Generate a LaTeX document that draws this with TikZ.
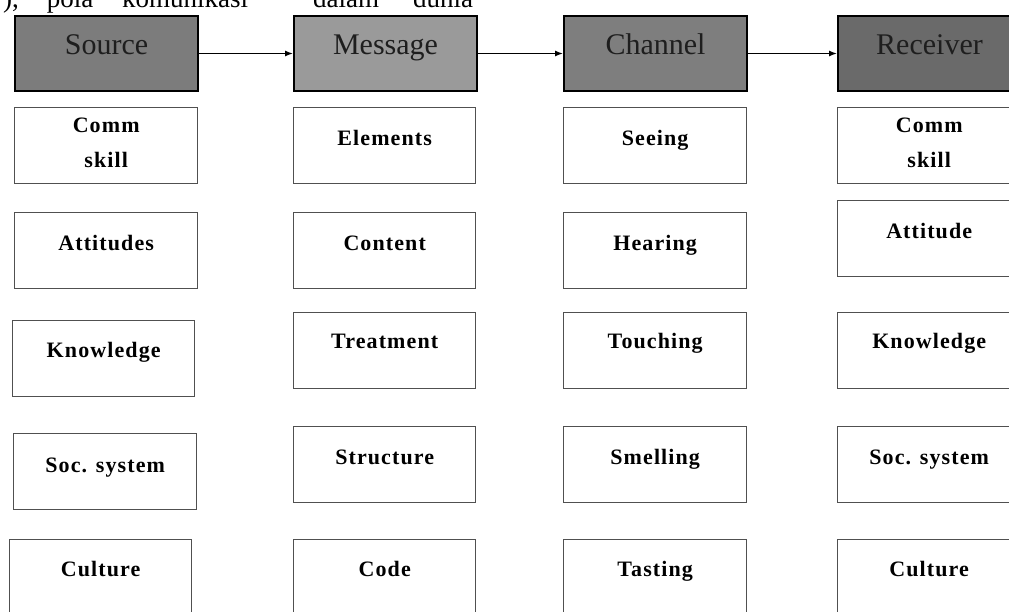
\documentclass[tikz,border=0pt]{standalone}
\usepackage{fontspec}
\setmainfont{Liberation Serif}
\usetikzlibrary{arrows.meta}
\definecolor{srcgray}{RGB}{124,124,124}
\definecolor{msggray}{RGB}{154,154,154}
\definecolor{chgray}{RGB}{126,126,126}
\definecolor{rcvgray}{RGB}{106,106,106}
\definecolor{boxline}{RGB}{80,80,80}
\definecolor{hink}{RGB}{30,30,30}
\tikzset{
  hbox/.style={draw=black, line width=2pt, minimum width=183pt, minimum height=75pt, anchor=north west, inner sep=0pt},
  wbox/.style={draw=boxline, line width=1.4pt, fill=white, minimum width=183pt, minimum height=76pt, anchor=north west, inner sep=0pt},
  htext/.style={font=\fontsize{30}{34}\selectfont, text=hink, anchor=base, inner sep=0pt},
  lbl/.style={font=\fontsize{22}{26}\selectfont\bfseries\addfontfeature{LetterSpace=5}, anchor=base, inner sep=0pt},
  toptext/.style={font=\fontsize{27}{30}\selectfont, anchor=base, inner sep=0pt},
  arr/.style={line width=1.2pt, -{Latex[length=8pt,width=6pt]}}
}
\begin{document}
\begin{tikzpicture}[x=1pt,y=-1pt]
\useasboundingbox (0,0) rectangle (1009,611);
\clip (0,0) rectangle (1009,611);
% cut-off line of body text above the figure
\node[toptext] (w1) at (11,7) {),};
\node[toptext] (w2) at (70,7) {pola};
\node[toptext] (w3) at (185,7) {komunikasi};
\node[toptext] (w4) at (346,7) {dalam};
\node[toptext] (w5) at (443,7) {dunia};
% headers
\node[hbox, fill=srcgray] (S) at (14,15) {};
\node[hbox, fill=msggray] (M) at (293,15) {};
\node[hbox, fill=chgray] (C) at (563,15) {};
\node[hbox, fill=rcvgray, minimum width=190pt] (R) at (837,15) {};
\node[htext] (St) at ([yshift=-39pt]S.north) {Source};
\node[htext] (Mt) at ([yshift=-39pt]M.north) {Message};
\node[htext] (Ct) at ([yshift=-39pt]C.north) {Channel};
\node[htext] (Rt) at ([yshift=-39pt, xshift=-3.5pt]R.north) {Receiver};
\draw[arr] (S.east) -- (M.west);
\draw[arr] (M.east) -- (C.west);
\draw[arr] (C.east) -- (R.west);
% Source column
\node[wbox] (s1) at (14,107) {};
\node[wbox] (s2) at (14,212) {};
\node[wbox, minimum width=182pt] (s3) at (12,320) {};
\node[wbox] (s4) at (13,433) {};
\node[wbox, minimum width=182pt] (s5) at (9,539) {};
\node[lbl] (s1a) at ([yshift=-25pt]s1.north) {Comm};
\node[lbl] (s1b) at ([yshift=-60pt]s1.north) {skill};
\node[lbl] (s2t) at ([yshift=-38pt]s2.north) {Attitudes};
\node[lbl] (s3t) at ([yshift=-37pt]s3.north) {Knowledge};
\node[lbl] (s4t) at ([yshift=-39pt]s4.north) {Soc. system};
\node[lbl] (s5t) at ([yshift=-37pt]s5.north) {Culture};
% Message column
\node[wbox, minimum width=182pt] (m1) at (293,107) {};
\node[wbox, minimum width=182pt] (m2) at (293,212) {};
\node[wbox, minimum width=182pt] (m3) at (293,312) {};
\node[wbox, minimum width=182pt] (m4) at (293,426) {};
\node[wbox, minimum width=182pt] (m5) at (293,539) {};
\node[lbl] (m1t) at ([yshift=-38pt]m1.north) {Elements};
\node[lbl] (m2t) at ([yshift=-38pt]m2.north) {Content};
\node[lbl] (m3t) at ([yshift=-36pt]m3.north) {Treatment};
\node[lbl] (m4t) at ([yshift=-38pt]m4.north) {Structure};
\node[lbl] (m5t) at ([yshift=-37pt]m5.north) {Code};
% Channel column
\node[wbox] (c1) at (563,107) {};
\node[wbox] (c2) at (563,212) {};
\node[wbox] (c3) at (563,312) {};
\node[wbox] (c4) at (563,426) {};
\node[wbox] (c5) at (563,539) {};
\node[lbl] (c1t) at ([yshift=-38pt]c1.north) {Seeing};
\node[lbl] (c2t) at ([yshift=-38pt]c2.north) {Hearing};
\node[lbl] (c3t) at ([yshift=-36pt]c3.north) {Touching};
\node[lbl] (c4t) at ([yshift=-38pt]c4.north) {Smelling};
\node[lbl] (c5t) at ([yshift=-37pt]c5.north) {Tasting};
% Receiver column
\node[wbox, minimum width=190pt] (r1) at (837,107) {};
\node[wbox, minimum width=190pt] (r2) at (837,200) {};
\node[wbox, minimum width=190pt] (r3) at (837,312) {};
\node[wbox, minimum width=190pt] (r4) at (837,426) {};
\node[wbox, minimum width=190pt] (r5) at (837,539) {};
\node[lbl] (r1a) at ([yshift=-25pt, xshift=-3.5pt]r1.north) {Comm};
\node[lbl] (r1b) at ([yshift=-60pt, xshift=-3.5pt]r1.north) {skill};
\node[lbl] (r2t) at ([yshift=-38pt, xshift=-3.5pt]r2.north) {Attitude};
\node[lbl] (r3t) at ([yshift=-36pt, xshift=-3.5pt]r3.north) {Knowledge};
\node[lbl] (r4t) at ([yshift=-38pt, xshift=-3.5pt]r4.north) {Soc. system};
\node[lbl] (r5t) at ([yshift=-37pt, xshift=-3.5pt]r5.north) {Culture};
\end{tikzpicture}
\end{document}
